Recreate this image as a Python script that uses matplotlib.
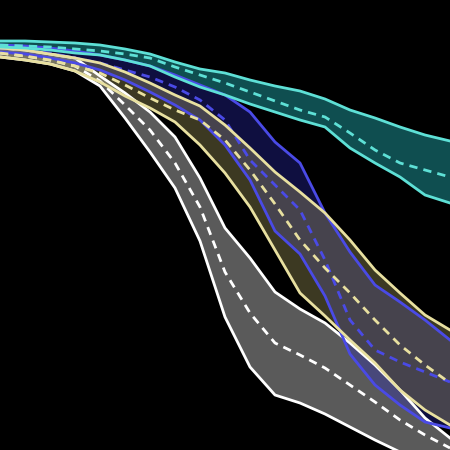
import numpy as np
import matplotlib
matplotlib.use("Agg")
import matplotlib.pyplot as plt

# time points and band values (lower value = higher on the chart)
t = [0, 25, 50, 75, 100, 125, 150, 175, 200, 225, 250, 275, 300, 325, 350, 375, 400, 425, 450]

cyan_hi = [41, 41, 42, 43, 45, 49, 54, 62, 69, 73, 80, 86, 91, 99, 110, 118, 127, 135, 141]
cyan_mid = [45, 46, 47, 49, 51, 54, 58, 67, 75, 83, 92, 101, 110, 117, 133, 150, 163, 170, 177]
cyan_lo = [47, 48, 50, 53, 55, 60, 66, 77, 87, 95, 104, 112, 120, 127, 148, 163, 177, 195, 203]

blue_hi = [45, 46, 48, 51, 55, 60, 66, 75, 85, 95, 112, 142, 163, 213, 252, 285, 302, 320, 340]
blue_mid = [48, 50, 53, 58, 63, 70, 77, 87, 100, 120, 160, 185, 210, 260, 320, 350, 362, 372, 382]
blue_lo = [52, 54, 58, 63, 70, 80, 92, 105, 120, 145, 180, 231, 254, 296, 354, 385, 405, 422, 428]

yellow_hi = [48, 50, 54, 58, 63, 72, 83, 95, 106, 125, 148, 172, 192, 213, 240, 270, 293, 315, 330]
yellow_mid = [53, 56, 60, 66, 73, 85, 98, 110, 120, 140, 170, 204, 240, 268, 293, 320, 345, 365, 383]
yellow_lo = [57, 60, 64, 71, 82, 96, 108, 122, 145, 173, 207, 250, 293, 316, 340, 363, 390, 410, 425]

white_hi = [48, 50, 54, 58, 76, 93, 112, 137, 178, 228, 258, 292, 309, 323, 343, 365, 390, 418, 438]
white_mid = [53, 56, 60, 66, 81, 105, 130, 163, 207, 272, 313, 343, 355, 368, 385, 402, 420, 435, 448]
white_lo = [57, 60, 64, 71, 86, 118, 152, 188, 241, 317, 367, 395, 403, 414, 427, 440, 452, 465, 478]

# drawn back to front
bands = [
    (white_hi, white_mid, white_lo, "#ffffff", "#b4b4b4", 0.50),
    (blue_hi, blue_mid, blue_lo, "#4a4ae6", "#2a2ab4", 0.36),
    (yellow_hi, yellow_mid, yellow_lo, "#e8e0a0", "#bdb46a", 0.32),
    (cyan_hi, cyan_mid, cyan_lo, "#5ee0d6", "#22aeb2", 0.45),
]

fig = plt.figure(figsize=(4.5, 4.5), dpi=100, facecolor="black")
ax = fig.add_axes([0, 0, 1, 1])
ax.set_facecolor("black")

for hi, mid, lo, line_c, fill_c, a in bands:
    ax.fill_between(t, hi, lo, color=fill_c, alpha=a, lw=0)
    ax.plot(t, hi, color=line_c, lw=2.0)
    ax.plot(t, lo, color=line_c, lw=2.0)
    ax.plot(t, mid, color=line_c, lw=2.0, dashes=(3.0, 2.2))

ax.set_xlim(0, 450)
ax.set_ylim(450, 0)
ax.axis("off")

fig.savefig("out.png", dpi=100, facecolor="black")
